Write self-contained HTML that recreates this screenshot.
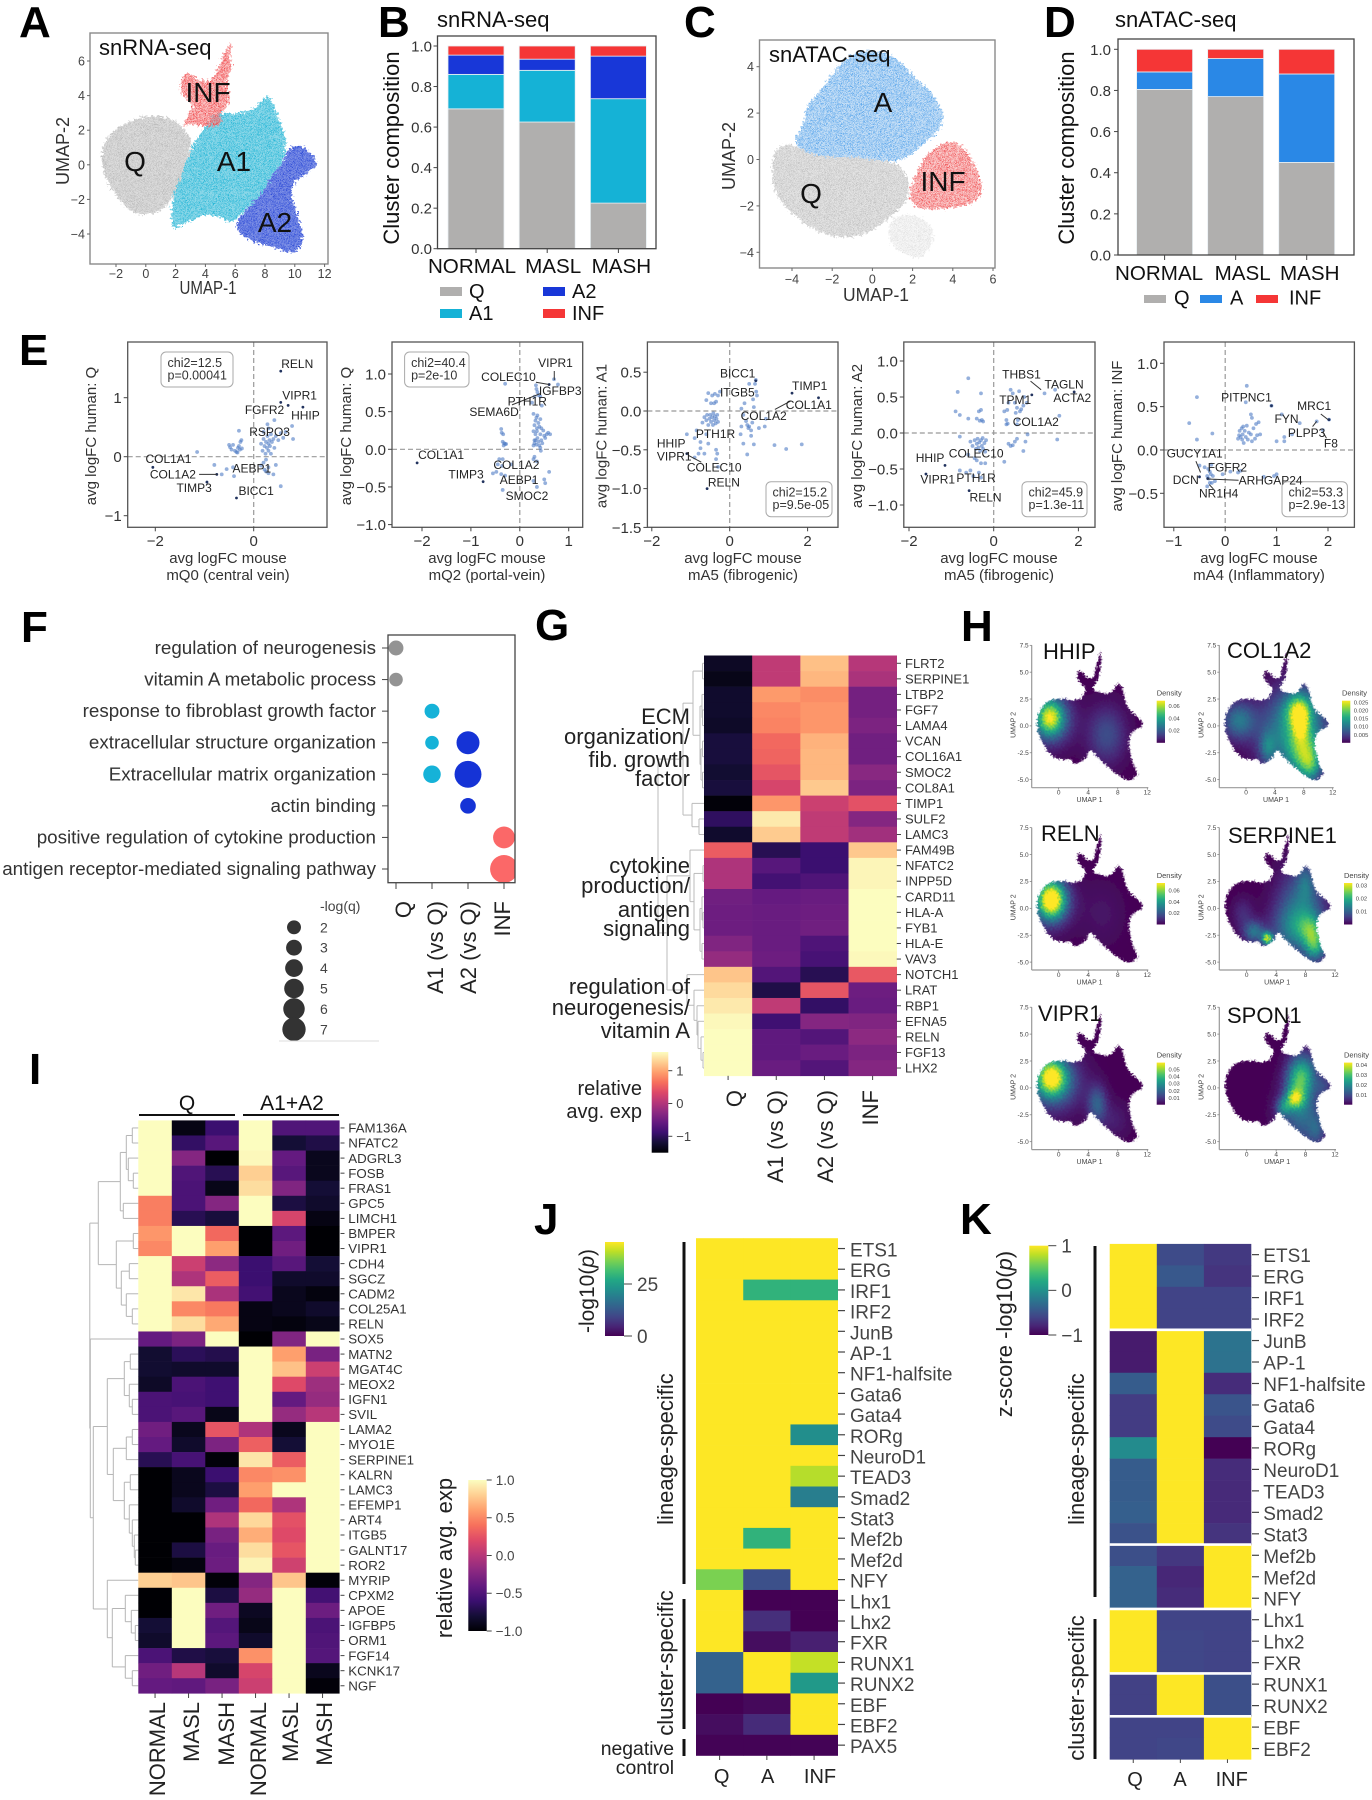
<!DOCTYPE html>
<html lang="en"><head><meta charset="utf-8"><title>Stellate cell single-nucleus figure</title>
<style>
html,body{margin:0;padding:0;background:#fff;width:1372px;height:1800px;overflow:hidden}
#figure{position:relative;width:1372px;height:1800px}
canvas{position:absolute}
svg{position:absolute;left:0;top:0}
text{font-family:"Liberation Sans",Arial,sans-serif}
.pl{font-size:44px;font-weight:bold;fill:#000}
.ttl{font-size:22px;fill:#111}
.big{font-size:28px;fill:#111}
.ax{font-size:15px;fill:#333}
.um{font-size:18px;fill:#333}
.gl{font-size:22px;fill:#222;text-anchor:end}
.hb{font-size:22px;fill:#111}
.hs{font-size:7px;fill:#444}
</style></head>
<body>
<div id="figure">
<div id="canvas-layer"></div>
<svg id="root" width="1372" height="1800" viewBox="0 0 1372 1800">
<defs id="defs">
<filter id="rough" x="-8%" y="-8%" width="116%" height="116%"><feTurbulence type="fractalNoise" baseFrequency=".45" numOctaves="2" seed="3" result="n"></feTurbulence><feDisplacementMap in="SourceGraphic" in2="n" scale="9" xChannelSelector="R" yChannelSelector="G"></feDisplacementMap></filter>
<filter id="rough-map" x="-8%" y="-8%" width="116%" height="116%"><feTurbulence type="fractalNoise" baseFrequency=".5" numOctaves="2" seed="8" result="n"></feTurbulence><feDisplacementMap in="SourceGraphic" in2="n" scale="6" xChannelSelector="R" yChannelSelector="G"></feDisplacementMap></filter>
</defs>

<g id="dendro-layer"></g>
<g id="panel-a"></g>
<g id="panel-b"></g>
<g id="panel-c"></g>
<g id="panel-d"></g>
<g id="panel-e"></g>
<g id="panel-f"></g>
<g id="panel-g"></g>
<g id="panel-h"></g>
<g id="panel-i"></g>
<g id="panel-j"></g>
<g id="panel-k"></g>

<g>
<text class="pl" x="19" y="37">A</text>
<text class="pl" x="378" y="37">B</text>
<text class="pl" x="684" y="37">C</text>
<text class="pl" x="1044" y="37">D</text>
<text class="pl" x="19" y="365">E</text>
<text class="pl" x="21" y="642">F</text>
<text class="pl" x="535" y="640">G</text>
<text class="pl" x="961" y="641">H</text>
<text class="pl" x="29" y="1084">I</text>
<text class="pl" x="534" y="1234">J</text>
<text class="pl" x="960" y="1234">K</text>
</g>

<g>
<text class="ttl" x="99" y="55">snRNA-seq</text>
<text class="big" x="135" y="171" text-anchor="middle">Q</text>
<text class="big" x="234" y="171" text-anchor="middle">A1</text>
<text class="big" x="275" y="232" text-anchor="middle">A2</text>
<text class="big" x="208" y="102" text-anchor="middle">INF</text>
<text class="um" x="208" y="294" text-anchor="middle" textLength="57" lengthAdjust="spacingAndGlyphs">UMAP-1</text>
<text class="um" transform="rotate(-90 69 151)" x="69" y="151" text-anchor="middle">UMAP-2</text>
<text class="ttl" x="437" y="27">snRNA-seq</text>
<text class="ttl" font-size="22.5" transform="rotate(-90 399 148)" x="399" y="148" text-anchor="middle">Cluster composition</text>
<text class="ttl" x="769" y="62">snATAC-seq</text>
<text class="big" x="883" y="112" text-anchor="middle">A</text>
<text class="big" x="811" y="203" text-anchor="middle">Q</text>
<text class="big" x="943" y="191" text-anchor="middle">INF</text>
<text class="um" x="876" y="301" text-anchor="middle" textLength="66" lengthAdjust="spacingAndGlyphs">UMAP-1</text>
<text class="um" transform="rotate(-90 735 156)" x="735" y="156" text-anchor="middle">UMAP-2</text>
<text class="ttl" x="1115" y="27">snATAC-seq</text>
<text class="ttl" transform="rotate(-90 1074 148)" x="1074" y="148" text-anchor="middle">Cluster composition</text>
</g>

<g>
<text class="gl" x="690" y="724">ECM</text>
<text class="gl" x="690" y="744">organization/</text>
<text class="gl" x="690" y="767">fib. growth</text>
<text class="gl" x="690" y="786">factor</text>
<text class="gl" x="690" y="873">cytokine</text>
<text class="gl" x="690" y="893">production/</text>
<text class="gl" x="690" y="917">antigen</text>
<text class="gl" x="690" y="936">signaling</text>
<text class="gl" x="690" y="994">regulation of</text>
<text class="gl" x="690" y="1015">neurogenesis/</text>
<text class="gl" x="690" y="1038">vitamin A</text>
<text class="gl" x="642" y="1095" style="font-size:20px">relative</text>
<text class="gl" x="642" y="1118" style="font-size:20px">avg. exp</text>
</g>

<g>
<text class="hb" x="1043" y="659">HHIP</text>
<text class="hb" x="1227" y="658">COL1A2</text>
<text class="hb" x="1041" y="841">RELN</text>
<text class="hb" x="1228" y="843">SERPINE1</text>
<text class="hb" x="1038" y="1021">VIPR1</text>
<text class="hb" x="1227" y="1023">SPON1</text>
</g>

<g>
<text x="187" y="1110" font-size="21" text-anchor="middle" fill="#111">Q</text>
<text x="292" y="1110" font-size="21" text-anchor="middle" fill="#111">A1+A2</text>
<rect x="139" y="1114" width="96" height="2" fill="#111"></rect>
<rect x="243" y="1114" width="96" height="2" fill="#111"></rect>
<text x="452" y="1558" font-size="22" fill="#222" text-anchor="middle" transform="rotate(-90 452 1558)">relative avg. exp</text>
</g>

<g>
<rect x="682.5" y="1242" width="3" height="342" fill="#111"></rect>
<rect x="682.5" y="1599" width="3" height="130" fill="#111"></rect>
<rect x="682.5" y="1739" width="3" height="17" fill="#111"></rect>
<text x="673" y="1449" font-size="22" fill="#222" text-anchor="middle" transform="rotate(-90 673 1449)">lineage-specific</text>
<text x="673" y="1663" font-size="22" fill="#222" text-anchor="middle" transform="rotate(-90 673 1663)">cluster-specific</text>
<text x="674" y="1755" font-size="19.4" fill="#222" text-anchor="end">negative</text>
<text x="674" y="1774" font-size="19.4" fill="#222" text-anchor="end">control</text>
<text x="594" y="1291" font-size="21" fill="#222" text-anchor="middle" transform="rotate(-90 594 1291)">-log10(<tspan font-style="italic">p</tspan>)</text>
</g>

<g>
<rect x="1093.5" y="1246" width="3" height="351" fill="#111"></rect>
<rect x="1093.5" y="1619" width="3" height="140" fill="#111"></rect>
<text x="1084" y="1449" font-size="22" fill="#222" text-anchor="middle" transform="rotate(-90 1084 1449)">lineage-specific</text>
<text x="1084" y="1688" font-size="22" fill="#222" text-anchor="middle" transform="rotate(-90 1084 1688)">cluster-specific</text>
<text x="1012" y="1334" font-size="22" fill="#222" text-anchor="middle" transform="rotate(-90 1012 1334)">z-score -log10(<tspan font-style="italic">p</tspan>)</text>
</g>
</svg>
</div>

<script>
/* ---------- DATA: panels A & C (cluster regions in UMAP units) ---------- */
const umapAQ=[[-2.96,.85],[-2.44,1.81],[-1.26,2.49],[.2,2.88],[1.82,2.68],[2.55,2.1],[3.14,1.43],[2.85,.46],[2.41,-.69],[2.11,-1.47],[1.53,-2.24],[.79,-2.82],[-.68,-2.92],[-1.56,-2.24],[-2.44,-1.27],[-2.96,-.12]];
const umapAA1=[[4.02,2.2],[4.61,3.07],[6.08,2.88],[7.54,3.36],[8.13,4.03],[8.13,4.03],[8.57,3.55],[9.01,2.39],[9.45,1.43],[9.3,.27],[8.42,-.69],[7.84,-1.66],[6.66,-2.63],[5.78,-3.4],[4.9,-3.01],[4.02,-2.82],[3.14,-3.2],[1.82,-3.69],[1.82,-3.69],[1.67,-2.24],[2.26,-.89],[2.85,.46],[3.29,1.43]];
const umapAA2=[[9.6,1.04],[10.48,1.14],[11.36,.46],[11.5,-.02],[10.77,-.5],[9.89,-.98],[9.74,-1.85],[10.33,-3.2],[10.63,-4.56],[9.89,-5.14],[8.42,-4.75],[6.66,-4.27],[5.93,-3.59],[6.66,-2.63],[7.84,-1.66],[8.42,-.69],[9.3,.27]];
const umapAINF=[[5.78,7.03],[5.78,7.03],[5.64,6.25],[5.78,5.48],[5.34,4.81],[5.64,3.94],[5.49,3.36],[4.9,2.88],[5.2,2.3],[4.02,2.2],[2.85,2.39],[2.41,2.1],[2.85,2.88],[3.29,3.55],[2.41,3.94],[2.26,4.9],[2.85,5.39],[3.29,5],[4.31,4.71],[4.9,5.68],[5.34,6.64]];
const umapCQ=[[-4.83,.55],[-5.05,-.53],[-4.83,-1.61],[-3.2,-2.97],[-1.67,-3.41],[-.37,-3.26],[.93,-2.47],[1.8,-1.75],[1.8,-.89],[1.37,-.17],[-.59,.11],[-2.76,.11],[-4.07,.69]];
const umapCTail=[[.93,-2.47],[.72,-3.62],[2.02,-4.27],[2.67,-4.12],[3.22,-3.19],[2.24,-2.33]];
const umapCA=[[-4.07,.69],[-3.41,1.48],[-3.3,2.27],[-2.54,3.06],[-1.89,3.78],[-1.13,4.57],[.07,4.71],[1.15,4.43],[2.24,3.42],[3.11,2.77],[3.54,1.98],[3.43,1.34],[2.59,.69],[1.37,-.17],[-.59,.11],[-2.76,.11]];
const umapCINF=[[2.59,.11],[3.35,.69],[4.33,.76],[5.09,-.17],[5.52,-1.25],[5.09,-1.9],[3.78,-2.11],[2.26,-2.18],[1.8,-1.61],[2.02,-.89]];
const umapATicksX=[-2,0,2,4,6,8,10,12];
const umapATicksY=[6,4,2,0,-2,-4];
const umapCTicksX=[-4,-2,0,2,4,6];
const umapCTicksY=[4,2,0,-2,-4];

/* ---------- DATA: panels B & D (stacked bars) ---------- */
const compCats=['NORMAL','MASL','MASH'];
const compBQ=[.69,.625,.225];
const compBA1=[.17,.255,.515];
const compBA2=[.095,.055,.21];
const compBINF=[.045,.065,.05];
const compDQ=[.805,.77,.45];
const compDA=[.085,.185,.43];
const compDINF=[.11,.045,.12];
const compTicks=[0,.2,.4,.6,.8,1];

/* ---------- DATA: panel E (mouse vs human logFC) ---------- */
const e1Points=[[-1.15,.08],[-.8,-.14],[-.65,-.3],[-.55,-.21],[-.42,-.18],[-.4,-.33],[-.5,.2],[-.48,.16],[-.45,.12],[-.42,.2],[-.38,.1],[-.35,.08],[-.32,.15],[-.3,.18],[-.28,.12],[-.27,.25],[-.25,.28],[-.3,.44],[-.33,.07],[-.24,.14],[.15,.22],[.18,.1],[.2,.3],[.22,.18],[.24,.05],[.25,.25],[.27,.15],[.28,.35],[.3,.22],[.3,.1],[.32,.28],[.33,.18],[.35,.05],[.35,.38],[.37,.25],[.4,.3],[.42,.15],[.45,.35],[.5,.28],[.55,.4],[.6,.32],[.65,.42],[.78,.52],[.8,.3],[.42,.62],[.28,.55],[.3,.48],[.2,.42],[.15,-.15],[.25,-.25],[.3,-.28],[.4,-.3],[.2,-.1],[.25,-.05],[.55,-.5],[.45,-.14],[.3,-.18],[.22,-.22]];
const e1Key=[[.55,1.45],[.55,.92],[.7,.87],[1,.84],[-2.05,-.18],[-.75,-.3],[-.95,-.43],[-.35,-.7]];
const e1Labels=[['RELN',.56,1.5],['VIPR1',.58,.97],['FGFR2',-.18,.72],['HHIP',.76,.63],['RSPO3',-.09,.35],['COL1A1',-2.2,-.11],['COL1A2',-2.11,-.37],['TIMP3',-1.57,-.6],['AEBP1',-.43,-.27],['BICC1',-.31,-.65]];
const e1Links=[[-1.11,-.3,-.74,-.3]];
const e2Points=[[-.42,-.13],[-.45,-.2],[-.35,-.13],[-.55,-.32],[-.48,-.3],[-.38,-.33],[-.3,-.35],[-.36,-.22],[-.18,-.2],[-.34,.2],[-.37,.22],[-.38,.27],[-.35,.1],[-.32,.08],[-.3,.07],[-.28,.07],[-.33,.05],[.28,.05],[.3,.08],[.32,.12],[.34,.06],[.36,.15],[.38,.1],[.4,.05],[.42,.2],[.44,.12],[.46,.08],[.48,.25],[.5,.18],[.52,.15],[.55,.2],[.58,.22],[.62,.2],[.28,.24],[.3,.32],[.32,.38],[.34,.42],[.35,.28],[.36,.45],[.38,.35],[.4,.3],[.42,.4],[.44,.28],[.28,.47],[.32,.2],[.35,.24],[.3,.12],[.42,.02],[.43,-.02],[.3,-.1],[.28,-.13],[.35,-.16],[.6,-.3],[.5,-.4],[.52,-.45],[.35,-.5],[.28,-.42],[-.35,-.54],[.33,.85],[.34,.8],[.36,.76],[.38,.72],[.45,.58],[.3,.7],[.25,.62],[.42,.7],[-.3,.87],[.7,.93],[.78,.86]];
const e2Key=[[-2.1,-.18],[-.75,-.43],[.6,.86]];
const e2Labels=[['VIPR1',.375,1.09],['COLEC10',-.79,.91],['IGFBP3',.39,.72],['PTH1R',-.25,.58],['SEMA6D',-1.03,.44],['COL1A1',-2.08,-.13],['COL1A2',-.54,-.26],['TIMP3',-1.46,-.385],['AEBP1',-.41,-.46],['SMOC2',-.29,-.67]];
const e2Links=[[.705,1.04,.705,.92],[.33,.89,.6,.86],[-.16,.59,.42,.74]];
const e3Points=[[-1.1,-.3],[-.85,-.25],[-.9,-.35],[-.75,-.4],[-.7,-.15],[-.65,-.08],[-.6,-.12],[-.58,-.05],[-.55,-.18],[-.52,-.1],[-.5,-.05],[-.48,-.14],[-.45,-.08],[-.43,-.18],[-.42,-.03],[-.4,-.12],[-.38,-.07],[-.36,-.16],[-.34,-.1],[-.32,-.05],[-.3,-.14],[-.6,.14],[-.55,.23],[-.48,.1],[-.45,.2],[-.4,.1],[-.38,.22],[-.3,.2],[-.25,.25],[-.35,.12],[.3,.03],[.35,-.05],[.38,.1],[.42,-.13],[.45,-.18],[.48,-.22],[.5,-.2],[.55,-.25],[.58,-.15],[.62,.05],[.7,.2],[.68,.25],[.65,.35],[.67,.4],[.6,.15],[.75,-.22],[.93,-.1],[.9,-.2],[.55,-.32],[.3,-.2],[.28,-.3],[.35,-.42],[-.6,-.3],[-.55,-.42],[-.75,-.48],[-.65,-.55],[-.35,-.5],[-.32,-.55],[-.35,-.62],[-.3,-.72],[1.15,-.44],[1.45,-.49],[1.85,-.43],[.45,-.56],[.62,-.43],[-.9,-.6],[-.8,-.55],[.5,.35]];
const e3Key=[[1.6,.23],[2.28,.17],[-.58,-1],[-1.1,-.55],[.67,.39]];
const e3Labels=[['HHIP',-1.87,-.47],['VIPR1',-1.87,-.64],['BICC1',-.25,.43],['ITGB5',-.25,.185],['TIMP1',1.6,.27],['COL1A1',1.44,.026],['COL1A2',.28,-.116],['PTH1R',-.87,-.35],['COLEC10',-1.1,-.78],['RELN',-.56,-.97]];
const e3Links=[[1.16,.02,1.57,.13],[-1.07,-.57,-.73,-.66]];
const e4Points=[[-.6,.76],[-.85,.57],[-.3,.55],[-.9,.3],[-.8,.25],[-.3,.32],[-.35,.3],[-.28,.18],[-.33,.17],[-.25,.16],[-.6,.2],[-.4,.2],[-.8,-.05],[-.55,-.12],[-.5,-.18],[-.45,-.1],[-.42,-.22],[-.4,-.15],[-.38,-.08],[-.36,-.2],[-.34,-.13],[-.32,-.25],[-.3,-.1],[-.28,-.18],[-.26,-.07],[-.25,-.22],[-.22,-.14],[-.2,-.26],[-.18,-.1],[-.6,-.3],[-.45,-.35],[-.4,-.38],[-.3,-.42],[-.2,-.42],[-.8,-.52],[-.65,-.55],[-.55,-.52],[-.48,-.6],[-.35,-.55],[-.3,-.62],[.3,.12],[.3,.18],[.32,.32],[.35,.42],[.4,.6],[.45,.55],[.5,.42],[.52,.28],[.55,.35],[.57,.18],[.6,.58],[.62,.3],[.65,.33],[.7,.38],[.72,.5],[.78,.42],[.33,.13],[.55,.12],[.25,.3],[.75,-.12],[.5,-.12],[.45,-.17],[.4,-.18],[.35,-.15],[.55,-.08],[.7,-.25],[.25,-.4],[.8,-.02],[1.5,-.09],[1.55,.24],[1.45,.6],[1.2,.55]];
const e4Key=[[.9,.53],[1.9,.57],[-1.15,-.45],[-1.6,-.57],[-.58,-.8]];
const e4Labels=[['THBS1',.2,.76],['TAGLN',1.2,.62],['ACTA2',1.41,.43],['TPM1',.13,.4],['COL1A2',.45,.1],['HHIP',-1.84,-.4],['COLEC10',-1.06,-.34],['VIPR1',-1.73,-.7],['PTH1R',-.88,-.68],['RELN',-.57,-.95]];
const e4Links=[[.87,.72,1.12,.6]];
const e5Points=[[-.55,.61],[-.7,.31],[-.55,.12],[-.25,.19],[.42,.74],[.4,.55],[.5,.41],[.52,.37],[.28,.22],[.3,.15],[.32,.25],[.33,.12],[.34,.18],[.36,.08],[.38,.22],[.4,.15],[.42,.28],[.44,.12],[.46,.2],[.5,.18],[.52,.1],[.55,.25],[.58,.13],[.6,.3],[.62,.17],[.65,.32],[.68,.18],[.25,.13],[.27,.17],[.35,.27],[1.1,.41],[1.45,.31],[1,.1],[1.15,.1],[1.15,.15],[1.3,.18],[1.78,.33],[1.9,.23],[2.02,.35],[.9,.51],[-.5,-.18],[-.4,-.2],[-.35,-.3],[-.32,-.33],[-.3,-.25],[-.28,-.28],[-.26,-.38],[-.24,-.3],[-.3,-.38],[-.35,-.42],[-.27,-.17],[-.33,-.22],[-.05,-.28],[.1,-.25],[.25,-.26],[.3,-.24],[.75,-.31],[.95,-.3],[1,-.28],[-.2,-.36]];
const e5Key=[[-.5,-.31],[-.34,-.33],[.9,.51],[2.02,.35]];
const e5Labels=[['PITPNC1',-.08,.56],['MRC1',1.4,.46],['FYN',.96,.31],['PLPP3',1.22,.15],['F8',1.92,.03],['GUCY1A1',-1.14,-.085],['FGFR2',-.34,-.25],['DCN',-1.02,-.39],['ARHGAP24',.26,-.4],['NR1H4',-.51,-.55]];
const e5Links=[[-.34,-.335,.26,-.35],[1.86,.415,2,.35],[-.57,-.13,-.48,-.26],[1.9,.21,1.97,.135],[-.31,-.4,-.23,-.45],[1.7,.27,1.78,.33]];

/* ---------- DATA: panel F (dot plot) ---------- */
const fTerms=['regulation of neurogenesis','vitamin A metabolic process','response to fibroblast growth factor','extracellular structure organization','Extracellular matrix organization','actin binding','positive regulation of cytokine production','antigen receptor-mediated signaling pathway'];
const fGroups=['Q','A1 (vs Q)','A2 (vs Q)','INF'];
const fScores=[[2.5,null,null,null],[1.8,null,null,null],[null,2.5,null,null],[null,1.8,6.8,null],[null,3.9,8.9,null],[null,null,2.9,null],[null,null,null,6.2],[null,null,null,9.4]];
const fLegendValues=[2,3,4,5,6,7];

/* ---------- DATA: panel G (heatmap) ---------- */
const gGenes=['FLRT2','SERPINE1','LTBP2','FGF7','LAMA4','VCAN','COL16A1','SMOC2','COL8A1','TIMP1','SULF2','LAMC3','FAM49B','NFATC2','INPP5D','CARD11','HLA-A','FYB1','HLA-E','VAV3','NOTCH1','LRAT','RBP1','EFNA5','RELN','FGF13','LHX2'];
const gCols=['Q','A1 (vs Q)','A2 (vs Q)','INF'];
const gValues=[[-1.3,.09,1.15,.02],[-1.38,.09,1.09,-.07],[-1.25,.91,.82,-.46],[-1.25,.79,.88,-.46],[-1.28,.76,.88,-.4],[-1.16,.57,1.06,-.49],[-1.16,.54,1.09,-.49],[-1.22,.42,1.09,-.31],[-1.16,.27,1.21,-.4],[-1.47,.88,.18,.39],[-.98,1.42,.09,-.34],[-1.25,1.22,.09,-.13],[.48,-1.04,-.89,1.2],[-.04,-.68,-.89,1.5],[-.04,-.83,-.74,1.5],[-.49,-.58,-.55,1.55],[-.52,-.55,-.52,1.55],[-.52,-.55,-.49,1.55],[-.37,-.55,-.74,1.55],[-.22,-.52,-.8,1.52],[1.18,-.71,-1.04,.45],[1.32,-1.1,.42,-.52],[1.42,.09,-.95,-.55],[1.52,-.86,-.34,-.37],[1.55,-.62,-.71,-.28],[1.55,-.62,-.55,-.4],[1.55,-.55,-.71,-.34]];
const gBarTicks=[1,0,-1];

/* ---------- DATA: panel H (density maps, blobs = x, y, spreadX, spreadY, density) ---------- */
const hOutline=[[5.68,7],[5.68,7],[5.8,5.8],[5.36,4.3],[4.46,3.5],[5.1,3.2],[6.9,2.85],[8.06,4],[8.06,4],[8.7,3.5],[9.2,1.7],[10.3,1.05],[11.4,.4],[11.35,-.1],[10.1,-.4],[9.4,-1.25],[9.86,-3.2],[10.77,-4.5],[10.77,-4.5],[9.64,-5.2],[7.84,-4.5],[5.6,-3.2],[4.2,-2],[3.8,-3],[2,-3.7],[1.75,-3],[1.1,-3.2],[-.7,-3],[-1.9,-2],[-2.75,-.8],[-3,.4],[-2.6,1.5],[-1.6,2.3],[.18,2.6],[2,2.35],[3.1,2.5],[3.8,3.5],[3.1,3.8],[2.34,4.6],[2.8,5.3],[3.56,4.64],[4.7,4.3],[5.1,5.6]];
const hhipBlobs=[[-1.2,.8,1.2,1.1,.045],[-1,.6,2,1.6,.025],[6.5,-.8,1.8,1.8,.016]];
const col1a2Blobs=[[-1,.5,1.6,1.2,.01],[7.3,1.5,1.2,1,.014],[7.5,.2,.7,.9,.012],[8,-2.5,1.5,1.5,.013],[9,-3.8,1,1,.009],[6,-.5,3,2.5,.01],[3,-2,.8,1,.007],[8,.5,2.5,2.5,.006]];
const relnBlobs=[[-1,.8,1.3,1.2,.075],[-1,.5,2.2,1.7,.014],[6,-.5,2,2,.004]];
const serpine1Blobs=[[2.8,-2.8,.5,.4,.026],[1,-2.2,1,.7,.012],[8.7,-1.9,1.2,1,.012],[9.3,-3.5,1,1,.016],[7.5,0,2.2,2.5,.012],[8,2.5,.8,1.2,.006],[6,-2,2,1.5,.008],[-.5,-.5,1,1,.004]];
const vipr1Blobs=[[-1,1,1.4,1.2,.05],[-.5,.5,2.5,1.8,.02],[5.2,-1.5,.9,1.2,.018],[7.5,-3,1.5,1.2,.005]];
const spon1Blobs=[[6.5,-1,.8,.6,.022],[7,.5,1.2,1.5,.02],[8,1.5,1.3,1.3,.013],[5,-1.8,.7,.6,.014],[7.5,-2.5,2,2,.014],[9.5,-4,.8,1,.008],[10.5,.2,.8,.7,.007]];
const hhipBar=[0,.0686];
const col1a2Bar=[0,.026];
const relnBar=[0,.0727];
const serpine1Bar=[0,.032];
const vipr1Bar=[0,.06];
const spon1Bar=[0,.0425];
const hhipTicks=[.06,.04,.02];
const col1a2Ticks=[.025,.02,.015,.01,.005];
const relnTicks=[.06,.04,.02];
const serpine1Ticks=[.03,.02,.01];
const vipr1Ticks=[.05,.04,.03,.02,.01];
const spon1Ticks=[.04,.03,.02,.01];
const hTicksX=[0,4,8,12];
const hTicksY=[7.5,5,2.5,0,-2.5,-5];

/* ---------- DATA: panel I (heatmap) ---------- */
const iGenes=['FAM136A','NFATC2','ADGRL3','FOSB','FRAS1','GPC5','LIMCH1','BMPER','VIPR1','CDH4','SGCZ','CADM2','COL25A1','RELN','SOX5','MATN2','MGAT4C','MEOX2','IGFN1','SVIL','LAMA2','MYO1E','SERPINE1','KALRN','LAMC3','EFEMP1','ART4','ITGB5','GALNT17','ROR2','MYRIP','CPXM2','APOE','IGFBP5','ORM1','FGF14','KCNK17','NGF'];
const iCols=['NORMAL','MASL','MASH','NORMAL','MASL','MASH'];
const iValues=[[1,-.94,-.6,1,-.5,-.5],[1,-.64,-.46,1,-.8,-.74],[1,-.24,-1,.98,-.4,-.9],[1,-.5,-.7,.8,-.46,-.9],[1,-.52,-.92,.86,-.26,-.8],[.46,-.52,-.24,1,-.76,-.84],[.46,-.7,-.78,1,.16,-.94],[.56,1,.36,-1,-.44,-1],[.5,1,.6,-1,-.34,-1],[1,.1,-.2,-.6,-.46,-.8],[1,-.04,.3,-.6,-.84,-.84],[1,.9,-.06,-.56,-.9,-.96],[1,.5,.44,-.94,-.9,-.84],[1,.86,.64,-.94,-.96,-.92],[-.4,-.28,1,-1,-.26,1],[-.82,-.68,-.72,1,.6,-.3],[-.82,-.84,-.84,1,.74,.1],[-.86,-.52,-.58,1,.2,-.12],[-.52,-.54,-.58,1,-.4,-.16],[-.52,-.46,-.92,1,-.16,0],[-.34,-.9,.26,-.04,-.9,1],[-.4,-.84,-.28,.32,-.8,1],[-.7,-.54,-.98,.9,.3,1],[-1,-.9,-.6,.5,.54,1],[-1,-.9,-.76,.6,1,1],[-1,-.84,-.34,.36,-.04,1],[-1,-1,-.04,.84,.24,1],[-1,-1,-.3,.66,.2,1],[-1,-.76,-.38,.86,.26,1],[-1,-.96,-.36,.96,.12,1],[.8,.76,-.98,-.24,.76,-.98],[-1,1,-.76,-.16,1,-.56],[-1,1,-.34,-.88,1,-.36],[-.8,1,-.48,-.92,1,-.52],[-.84,1,-.44,-.84,1,-.5],[-.52,-.74,-.78,.54,1,-.48],[-.34,0,-.84,.16,1,-.9],[-.4,-.42,-.3,.1,1,-.98]];
const iBarTicks=[1,.5,0,-.5,-1];

/* ---------- DATA: panels J & K ---------- */
const jMotifs=['ETS1','ERG','IRF1','IRF2','JunB','AP-1','NF1-halfsite','Gata6','Gata4','RORg','NeuroD1','TEAD3','Smad2','Stat3','Mef2b','Mef2d','NFY','Lhx1','Lhx2','FXR','RUNX1','RUNX2','EBF','EBF2','PAX5'];
const jCols=['Q','A','INF'];
const jValues=[[45,45,45],[45,45,45],[45,29,29],[45,45,45],[45,45,45],[45,45,45],[45,45,45],[45,45,45],[45,45,45],[45,45,22],[45,45,45],[45,45,40],[45,45,19],[45,45,45],[45,29,45],[45,45,45],[36,11,45],[45,0,0],[45,6,0],[45,1.5,4],[14,45,41],[14,45,24],[0,1,45],[1.5,5.5,45],[.3,.3,.3]];
const jBarTicks=[25,0];
const kMotifs=['ETS1','ERG','IRF1','IRF2','JunB','AP-1','NF1-halfsite','Gata6','Gata4','RORg','NeuroD1','TEAD3','Smad2','Stat3','Mef2b','Mef2d','NFY','Lhx1','Lhx2','FXR','RUNX1','RUNX2','EBF','EBF2'];
const kCols=['Q','A','INF'];
const kValues=[[1,-.55,-.67],[1,-.45,-.7],[1,-.6,-.6],[1,-.6,-.6],[-.85,1,-.24],[-.85,1,-.25],[-.42,1,-.75],[-.65,1,-.48],[-.65,1,-.55],[-.05,1,-1],[-.42,1,-.75],[-.42,1,-.76],[-.4,1,-.76],[-.5,1,-.7],[-.52,-.68,1],[-.38,-.78,1],[-.38,-.75,1],[1,-.6,-.6],[1,-.58,-.6],[1,-.58,-.6],[-.62,1,-.52],[-.62,1,-.52],[-.6,-.6,1],[-.6,-.58,1]];
const kGroupEnds=[4,14,17,20,22];
const kBarTicks=[1,0,-1];

/* ---------- colour maps ---------- */
const magmaStops=['#000004','#140e36','#3b0f70','#641a80','#8c2981','#b73779','#de4968','#f7705c','#fe9f6d','#fecf92','#fcfdbf'];
const viridisStops=['#440154','#482475','#414487','#355f8d','#2a788e','#21918c','#22a884','#44bf70','#7ad151','#bddf26','#fde725'];
function hex(c){return [parseInt(c.slice(1,3),16),parseInt(c.slice(3,5),16),parseInt(c.slice(5,7),16)];}
function rampRGB(stops,t){t=Math.max(0,Math.min(1,t));const p=t*(stops.length-1),i=Math.min(stops.length-2,Math.floor(p)),f=p-i,a=hex(stops[i]),b=hex(stops[i+1]);return [0,1,2].map(k=>Math.round(a[k]+(b[k]-a[k])*f));}
function ramp(stops,t){const c=rampRGB(stops,t);return 'rgb('+c.join(',')+')';}

/* ---------- helpers ---------- */
const NS='http://www.w3.org/2000/svg';
function mk(tag,attrs,parent){const e=document.createElementNS(NS,tag);for(const k in attrs)e.setAttribute(k,attrs[k]);if(parent)parent.appendChild(e);return e;}
function linear(v0,p0,v1,p1){return v=>p0+(v-v0)*(p1-p0)/(v1-v0);}
function chaikin(pts,n){
  let cur=pts;
  for(let it=0;it<n;it++){
    const out=[];
    cur.forEach((p,i)=>{
      const q=cur[(i+1)%cur.length];
      out.push([p[0]*.75+q[0]*.25,p[1]*.75+q[1]*.25]);
      out.push([p[0]*.25+q[0]*.75,p[1]*.25+q[1]*.75]);
    });
    cur=out;
  }
  return cur;
}
function txt(parent,str,x,y,size,anchor,fill,name){
  const t=mk('text',{x:x,y:y,'font-size':size,'text-anchor':anchor,fill:fill},parent);
  t.textContent=str;
  
  
  return t;
}
function txtV(parent,str,x,y,size,fill,name){
  const t=mk('text',{x:x,y:y,'font-size':size,'text-anchor':'end',fill:fill,transform:'rotate(-90 '+x+' '+y+')'},parent);
  t.textContent=str;
  
  
  return t;
}
function seg(parent,x1,y1,x2,y2,stroke,w,name){
  const l=mk('line',{x1:x1,y1:y1,x2:x2,y2:y2,stroke:stroke,'stroke-width':w},parent);
  
  
  return l;
}
function frame(parent,x,y,w,h,stroke,sw,name){
  const r=mk('rect',{x:x,y:y,width:w,height:h,fill:'none',stroke:stroke,'stroke-width':sw},parent);
  
  
  return r;
}
function fmt(v,d){return (d==null?String(v):v.toFixed(d)).replace('-','\u2212');}
const defs=document.getElementById('defs');
let gradCount=0;
function vGradient(stops){
  const id='grad'+(gradCount++);
  const g=mk('linearGradient',{id:id,x1:0,y1:1,x2:0,y2:0},defs);
  stops.forEach((c,i)=>mk('stop',{offset:i/(stops.length-1),'stop-color':c},g));
  return 'url(#'+id+')';
}
function colorbar(parent,x,y,w,h,stops,scaleLow,scaleHigh,ticks,dec,size,fill,tickLen,labelGap,name){
  const r=mk('rect',{x:x,y:y,width:w,height:h,fill:vGradient(stops)},parent);
  
  
  const sy=linear(scaleLow,y+h,scaleHigh,y);
  ticks.forEach(v=>{
    if(tickLen>0)seg(parent,x+w,sy(v),x+w+tickLen,sy(v),fill,1,name+'-tick');
    txt(parent,fmt(v,dec),x+w+labelGap,sy(v)+size*.36,size,'start',fill,name+'-tick-label');
  });
}
function makePattern(id,color,tint,tintOp,dotOp){
  const p=mk('pattern',{id:id,width:5,height:5,patternUnits:'userSpaceOnUse'},defs);
  mk('rect',{width:5,height:5,fill:tint,'fill-opacity':tintOp},p);
  [[1,1],[3.6,1.8],[1.6,3.7],[4.1,4.3]].forEach(d=>mk('circle',{cx:d[0],cy:d[1],r:.85,fill:color,'fill-opacity':dotOp},p));
  return 'url(#'+id+')';
}
function polygonFrom(parent,pts,sx,sy,fill,name){
  const pg=mk('polygon',{points:chaikin(pts,2).map(p=>sx(p[0]).toFixed(1)+','+sy(p[1]).toFixed(1)).join(' '),fill:fill},parent);
  
  
  return pg;
}

/* ---------- Panel A ---------- */
(function(){
  const g=document.getElementById('panel-a');
  const sx=linear(-2,116,12,324.6), sy=linear(6,61,-4,234);
  const cloud=mk('g',{filter:'url(#rough)'},g);
  
  
  polygonFrom(cloud,umapAQ,sx,sy,makePattern('pQ','#bdbdbd','#c8c8c8',.65,1),'cluster-q-cells');
  polygonFrom(cloud,umapAA1,sx,sy,makePattern('pA1','#2fb9d8','#58c7df',.7,1),'cluster-a1-cells');
  polygonFrom(cloud,umapAA2,sx,sy,makePattern('pA2','#3350d8','#5a72df',.8,1),'cluster-a2-cells');
  polygonFrom(cloud,umapAINF,sx,sy,makePattern('pI','#f04f52','#f58a8a',.55,1),'cluster-inf-cells');
  frame(g,90,33,238,231,'#8a8a8a',1.4,'umap-a-frame');
  umapATicksX.forEach(v=>{seg(g,sx(v),264,sx(v),267,'#666',1,'umap-a-x-tick');txt(g,fmt(v),sx(v),278,12.5,'middle','#444','umap-a-x-tick-label');});
  umapATicksY.forEach(v=>{seg(g,87,sy(v),90,sy(v),'#666',1,'umap-a-y-tick');txt(g,fmt(v),85,sy(v)+4.5,12.5,'end','#444','umap-a-y-tick-label');});
})();

/* ---------- Panel C ---------- */
(function(){
  const g=document.getElementById('panel-c');
  const sx=linear(-4,792,6,993), sy=linear(4,66.7,-4,252.3);
  const cloud=mk('g',{filter:'url(#rough)'},g);
  
  
  polygonFrom(cloud,umapCTail,sx,sy,makePattern('cT','#d0d0d0','#ededed',.5,.5),'cluster-q-sparse-tail');
  polygonFrom(cloud,umapCQ,sx,sy,makePattern('cQ','#c0c0c0','#d2d2d2',.65,.9),'cluster-q-cells');
  polygonFrom(cloud,umapCA,sx,sy,makePattern('cA','#5aa5ec','#a4cdf2',.65,.9),'cluster-a-cells');
  polygonFrom(cloud,umapCINF,sx,sy,makePattern('cI','#f0585c','#f59a9a',.55,.95),'cluster-inf-cells');
  frame(g,759.5,40,235.5,228,'#8a8a8a',1.4,'umap-c-frame');
  umapCTicksX.forEach(v=>{seg(g,sx(v),268,sx(v),271,'#666',1,'umap-c-x-tick');txt(g,fmt(v),sx(v),283.5,12.5,'middle','#444','umap-c-x-tick-label');});
  umapCTicksY.forEach(v=>{seg(g,756.5,sy(v),759.5,sy(v),'#666',1,'umap-c-y-tick');txt(g,fmt(v),754,sy(v)+4.5,12.5,'end','#444','umap-c-y-tick-label');});
})();

/* ---------- Panels B & D ---------- */
function stacked(g,series,colors,names,sy,barX,barW){
  compCats.forEach((cat,i)=>{
    let base=0;
    series.forEach((vals,s)=>{
      const top=base+vals[i];
      const r=mk('rect',{x:barX(i),y:sy(top),width:barW,height:sy(base)-sy(top),fill:colors[s],stroke:'#e8eef2','stroke-width':.8},g);
      
      
      base=top;
    });
  });
}
(function(){
  const g=document.getElementById('panel-b');
  const sy=linear(0,248.7,1,46);
  const barX=i=>448+i*71.2;
  stacked(g,[compBQ,compBA1,compBA2,compBINF],['#b0afae','#15b2d6','#1837d8','#f53636'],['q','a1','a2','inf'],sy,barX,56);
  frame(g,437.5,36,218.5,212.7,'#444',1.3,'composition-b-frame');
  compTicks.forEach(v=>{seg(g,433.5,sy(v),437.5,sy(v),'#444',1,'b-y-tick');txt(g,v.toFixed(1),432,sy(v)+5.5,15,'end','#333','b-y-tick-label');});
  const labelShift=[-4,6,3];
  compCats.forEach((c,i)=>{const x=barX(i)+28;seg(g,x,248.7,x,253,'#444',1,'b-x-tick');txt(g,c,x+labelShift[i],273,20.6,'middle','#111','b-x-tick-label');});
  const legend=[['Q','#b0afae',440,287],['A1','#15b2d6',440,309],['A2','#1837d8',543,287],['INF','#f53636',543,309]];
  legend.forEach(l=>{
    const r=mk('rect',{x:l[2],y:l[3],width:22,height:9,fill:l[1]},g);
    
    
    txt(g,l[0],l[2]+29,l[3]+11,20,'start','#111','legend-label-'+l[0].toLowerCase());
  });
})();
(function(){
  const g=document.getElementById('panel-d');
  const sy=linear(0,255,1,49.3);
  const barX=i=>1136.6+i*71.05;
  stacked(g,[compDQ,compDA,compDINF],['#b0afae','#2a88e6','#f53636'],['q','a','inf'],sy,barX,56);
  frame(g,1118,39,236,216,'#444',1.3,'composition-d-frame');
  compTicks.forEach(v=>{seg(g,1114,sy(v),1118,sy(v),'#444',1,'d-y-tick');txt(g,v.toFixed(1),1111,sy(v)+5.5,15,'end','#333','d-y-tick-label');});
  const labelShift=[-5.5,7,3];
  compCats.forEach((c,i)=>{const x=barX(i)+28;seg(g,x,255,x,260,'#444',1,'d-x-tick');txt(g,c,x+labelShift[i],280,20.6,'middle','#111','d-x-tick-label');});
  const legend=[['Q','#b0afae',1144],['A','#2a88e6',1200],['INF','#f53636',1256]];
  legend.forEach(l=>{
    const r=mk('rect',{x:l[2],y:295,width:22,height:8,fill:l[1]},g);
    
    
    txt(g,l[0],l[2]+(l[0]==='INF'?33:30),304.5,20,'start','#111','legend-label-'+l[0].toLowerCase());
  });
})();

/* ---------- Panel E ---------- */
const eStyle=[
 {pts:e1Points,key:e1Key,labels:e1Labels,links:e1Links,box:[127.7,342,199.3,185.3],sx:linear(-2,155.3,0,253.7),sy:linear(1,397.7,0,456.7),xt:[-2,0],yt:[1,0,-1],yd:null,yTitle:'avg logFC human: Q',line2:'mQ0 (central vein)',tx:91,xc:228,chi:['chi2=12.5','p=0.00041'],cb:[161,352,72,35]},
 {pts:e2Points,key:e2Key,labels:e2Labels,links:e2Links,box:[392,342,190.7,185.3],sx:linear(-2,422,1,568.7),sy:linear(1,374,0,449.3),xt:[-2,-1,0,1],yt:[1,.5,0,-.5,-1],yd:1,yTitle:'avg logFC human: Q',line2:'mQ2 (portal-vein)',tx:346,xc:487,chi:['chi2=40.4','p=2e-10'],cb:[404.6,352,64.4,35]},
 {pts:e3Points,key:e3Key,labels:e3Labels,links:e3Links,box:[647.4,342,190.6,185.3],sx:linear(-2,651.8,2,807.6),sy:linear(0,411,-1,488.6),xt:[-2,0,2],yt:[.5,0,-.5,-1,-1.5],yd:1,yTitle:'avg logFC human: A1',line2:'mA5 (fibrogenic)',tx:601.5,xc:743,chi:['chi2=15.2','p=9.5e-05'],cb:[766,481.7,66,35]},
 {pts:e4Points,key:e4Key,labels:e4Labels,links:e4Links,box:[903.8,342,191.2,185.3],sx:linear(-2,909,2,1078.4),sy:linear(1,361,-1,505),xt:[-2,0,2],yt:[1,.5,0,-.5,-1],yd:1,yTitle:'avg logFC human: A2',line2:'mA5 (fibrogenic)',tx:857,xc:999,chi:['chi2=45.9','p=1.3e-11'],cb:[1022,481.7,65,35]},
 {pts:e5Points,key:e5Key,labels:e5Labels,links:e5Links,box:[1164,342,190.4,185.3],sx:linear(-1,1173.8,2,1328),sy:linear(1,363.3,-.5,493.3),xt:[-1,0,1,2],yt:[1,.5,0,-.5],yd:1,yTitle:'avg logFC human: INF',line2:'mA4 (Inflammatory)',tx:1117,xc:1259,chi:['chi2=53.3','p=2.9e-13'],cb:[1282,481.7,65.4,35]}
];
(function(){
  const root=document.getElementById('panel-e');
  eStyle.forEach((c,i)=>{
    const g=mk('g',{},root);
    
    
    const [bx,by,bw,bh]=c.box, bot=by+bh;
    seg(g,bx,c.sy(0),bx+bw,c.sy(0),'#999',1.2,'zero-line-horizontal').setAttribute('stroke-dasharray','5 3');
    seg(g,c.sx(0),by,c.sx(0),bot,'#999',1.2,'zero-line-vertical').setAttribute('stroke-dasharray','5 3');
    const [cx,cy,cw,ch]=c.cb;
    const box=mk('rect',{x:cx,y:cy,width:cw,height:ch,rx:5,fill:'#fff',stroke:'#aaa','stroke-width':1},g);
    
    
    txt(g,c.chi[0],cx+6.5,cy+15,12.5,'start','#333','chi-square-value');
    txt(g,c.chi[1],cx+6.5,cy+27.5,12.5,'start','#333','p-value');
    c.pts.forEach(p=>{
      const d=mk('circle',{cx:c.sx(p[0]),cy:c.sy(p[1]),r:1.9,fill:'#4f7cc4','fill-opacity':.6},g);
      
      
    });
    c.key.forEach(p=>{
      const d=mk('circle',{cx:c.sx(p[0]),cy:c.sy(p[1]),r:1.4,fill:'#22335e'},g);
      
      
    });
    c.links.forEach(l=>seg(g,c.sx(l[0]),c.sy(l[1]),c.sx(l[2]),c.sy(l[3]),'#333',1,'label-connector'));
    c.labels.forEach(l=>txt(g,l[0],c.sx(l[1]),c.sy(l[2]),12,'start','#222','gene-label'));
    frame(g,bx,by,bw,bh,'#555',1.3,'scatter-frame');
    c.xt.forEach(v=>{seg(g,c.sx(v),bot,c.sx(v),bot+4,'#444',1,'x-tick');txt(g,fmt(v),c.sx(v),546,15,'middle','#333','x-tick-label');});
    c.yt.forEach(v=>{seg(g,bx-4,c.sy(v),bx,c.sy(v),'#444',1,'y-tick');txt(g,c.yd?fmt(v,c.yd):fmt(v),bx-6,c.sy(v)+5.5,15,'end','#333','y-tick-label');});
    const yl=txt(g,c.yTitle,c.tx+5,436,15,'middle','#333','y-axis-title');
    yl.setAttribute('transform','rotate(-90 '+(c.tx+5)+' 436)');
    txt(g,'avg logFC mouse',c.xc,563,15,'middle','#333','x-axis-title');
    txt(g,c.line2,c.xc,580,15,'middle','#333','x-axis-subtitle');
  });
})();

/* ---------- Panel F ---------- */
(function(){
  const g=document.getElementById('panel-f');
  const clip=mk('clipPath',{id:'fClip'},defs);
  mk('rect',{x:388,y:635,width:127,height:247.7},clip);
  const sx=i=>396+i*36;
  const sy=i=>648+i*31.57;
  const rad=v=>5.1+.94*v;
  const colors=['#939393','#15b2d8','#1533d6','#fb6868'];
  const inner=mk('g',{'clip-path':'url(#fClip)'},g);
  fTerms.forEach((t,r)=>{
    seg(g,382,sy(r),388,sy(r),'#444',1,'f-y-tick');
    txt(g,t,376,sy(r)+6,18.8,'end','#333','f-term-label');
    fGroups.forEach((_,c)=>{
      const v=fScores[r][c];
      if(v===null)return;
      const d=mk('circle',{cx:sx(c),cy:sy(r),r:rad(v),fill:colors[c]},inner);
      
      
    });
  });
  frame(g,388,635,127,247.7,'#444',1.3,'dotplot-frame');
  const base=[411,443,476,510];
  fGroups.forEach((t,c)=>{seg(g,sx(c),882.7,sx(c),889,'#444',1,'f-x-tick');txtV(g,t,base[c],901,22,'#222','f-group-label');});
  txt(g,'-log(q)',320,911,14,'start','#444','size-legend-title');
  fLegendValues.forEach((v,i)=>{
    const y=927.3+i*20.4;
    const d=mk('circle',{cx:294,cy:y,r:rad(v),fill:'#333'},g);
    
    
    txt(g,String(v),320,y+5,14,'start','#444','size-legend-label');
  });
  seg(g,279,1041,379,1041,'#ddd',1,'size-legend-rule');
})();

/* ---------- generic heatmap + dendrogram ---------- */
function heat(g,rows,cols,vals,x0,y0,w,h,color,prefix){
  const rh=h/rows.length, cw=w/cols.length;
  rows.forEach((name,r)=>{
    cols.forEach((c,k)=>{
      const cell=mk('rect',{x:x0+k*cw,y:y0+r*rh,width:cw+.3,height:rh+.3,fill:color(vals[r][k])},g);
      
      
    });
  });
  return {rh:rh,cw:cw};
}
function dendro(g,node,left,y0,rh,stroke,prefix){
  if(typeof node==='number')return {x:left,y:y0+(node+.5)*rh};
  const a=dendro(g,node[1],left,y0,rh,stroke,prefix), b=dendro(g,node[2],left,y0,rh,stroke,prefix);
  const x=left-node[0];
  seg(g,a.x,a.y,x,a.y,stroke,1,prefix+'-branch');
  seg(g,b.x,b.y,x,b.y,stroke,1,prefix+'-branch');
  seg(g,x,a.y,x,b.y,stroke,1,prefix+'-branch');
  return {x:x,y:(a.y+b.y)/2};
}
const dendroLayer=document.getElementById('dendro-layer');

/* ---------- Panel G ---------- */
const gTree=[46,[21,[11,[1.5,0,1],[4,[2,2,[1.5,3,4]],[3,[1.5,5,6],[1.5,7,8]]]],[12,9,[5,10,11]]],[37,[14,12,[10,[1,13,14],[4,[2,15,[1,16,17]],[2,18,19]]]],[17,20,[10,21,[7,22,[6,23,[3,24,[1,25,26]]]]]]]];
(function(){
  const g=document.getElementById('panel-g');
  const col=linear(-1.5,0,1.55,1);
  const m=heat(g,gGenes,gCols,gValues,704,655.5,192.7,420.3,v=>ramp(magmaStops,col(v)),'g');
  dendro(dendroLayer,gTree,704,655.5,m.rh,'#bbb','g-dendrogram');
  gGenes.forEach((n,r)=>{
    const y=655.5+(r+.5)*m.rh;
    seg(g,896.7,y,901,y,'#444',1,'g-row-tick');
    txt(g,n,905,y+4.5,13,'start','#333','g-gene-label');
  });
  const base=[742,783,833,878];
  gCols.forEach((c,k)=>{
    const x=704+(k+.5)*m.cw;
    seg(g,x,1075.8,x,1080,'#444',1,'g-col-tick');
    txtV(g,c,base[k],1090,22,'#222','g-col-label');
  });
  colorbar(g,651.7,1052,16.6,100.7,magmaStops,-1.5,1.57,gBarTicks,null,13,'#444',4,8,'g-colorbar');
})();

/* ---------- Panel I ---------- */
const iTree=[48.5,[40,[18,[12,[6,0,1],[10,2,[5,3,4]]],[15,5,6]],[22,[5,7,8],[17,[9,9,10],[12,11,[6,12,13]]]]],[48,14,[45,[31,[14,[8,15,16],[9,17,[6,18,19]]],[25,[12,[6,20,21],22],[14,[8,23,24],[9,25,[6,26,[4,27,[3,28,29]]]]]]],[31,30,[26,[13,31,[7,32,[3,33,34]]],[13,35,[6,36,37]]]]]]];
(function(){
  const g=document.getElementById('panel-i');
  const col=linear(-1,0,1,1);
  const m=heat(g,iGenes,iCols,iValues,138.3,1120.4,201,572.9,v=>ramp(magmaStops,col(v)),'i');
  dendro(dendroLayer,iTree,138.3,1120.4,m.rh,'#b5b5b5','i-dendrogram');
  iGenes.forEach((n,r)=>{
    const y=1120.4+(r+.5)*m.rh;
    seg(g,340.5,y,344.5,y,'#444',1,'i-row-tick');
    txt(g,n,348.3,y+4.7,13.3,'start','#333','i-gene-label');
  });
  const base=[165,199,234,266,298,332];
  iCols.forEach((c,k)=>{
    const x=138.3+(k+.5)*m.cw;
    seg(g,x,1693.3,x,1698,'#444',1,'i-col-tick');
    txtV(g,c,base[k],1702,22,'#222','i-col-label');
  });
  colorbar(g,468.3,1480,18.4,151,magmaStops,-1,1,iBarTicks,1,13.5,'#444',5,9,'i-colorbar');
})();

/* ---------- Panel J ---------- */
(function(){
  const g=document.getElementById('panel-j');
  const col=linear(0,0,45,1);
  const m=heat(g,jMotifs,jCols,jValues,696,1238.2,141.7,517.3,v=>ramp(viridisStops,col(v)),'j');
  jMotifs.forEach((n,r)=>{
    const y=1238.2+(r+.5)*m.rh;
    seg(g,838,y,845,y,'#444',1.2,'j-row-tick');
    txt(g,n,850,y+8,19,'start','#444','j-motif-label');
  });
  const lx=[721.7,767.7,820];
  jCols.forEach((c,k)=>{
    const x=696+(k+.5)*m.cw;
    seg(g,x,1755.5,x,1760,'#444',1,'j-col-tick');
    txt(g,c,lx[k],1783,20,'middle','#222','j-col-label');
  });
  colorbar(g,605,1242,19,94,viridisStops,0,45.2,jBarTicks,null,19,'#444',8,13,'j-colorbar');
})();

/* ---------- Panel K ---------- */
(function(){
  const g=document.getElementById('panel-k');
  const col=linear(-1,0,1,1);
  const m=heat(g,kMotifs,kCols,kValues,1109.7,1243.9,141.3,515.4,v=>ramp(viridisStops,col(v)),'k');
  kGroupEnds.forEach(r=>{
    const y=1243.9+r*m.rh;
    seg(g,1109.7,y,1251,y,'#fff',2.6,'k-group-gap');
  });
  kMotifs.forEach((n,r)=>{
    const y=1243.9+(r+.5)*m.rh;
    seg(g,1252,y,1259,y,'#444',1.2,'k-row-tick');
    txt(g,n,1263.3,y+7.5,19,'start','#444','k-motif-label');
  });
  const lx=[1135,1180,1231.7];
  kCols.forEach((c,k)=>{
    const x=1109.7+(k+.5)*m.cw;
    seg(g,x,1759.3,x,1763,'#444',1,'k-col-tick');
    txt(g,c,lx[k],1786,20,'middle','#222','k-col-label');
  });
  colorbar(g,1029.3,1245.7,19,89.3,viridisStops,-1,1,kBarTicks,null,19,'#444',8,13,'k-colorbar');
})();

/* ---------- Panel H ---------- */
const hLayout=[
 {name:'hhip',blobs:hhipBlobs,bar:hhipBar,ticks:hhipTicks,dec:2,left:1031.7,x0:1058.7,x12:1147.3,y75:645.3,y0:725.9,bottom:787.7,bx:1156.7,by:700.7,bh:42.1,dy:695.4},
 {name:'col1a2',blobs:col1a2Blobs,bar:col1a2Bar,ticks:col1a2Ticks,dec:3,left:1219.3,x0:1246,x12:1332.7,y75:645.3,y0:725.9,bottom:787.7,bx:1342,by:700.7,bh:42.1,dy:695.4},
 {name:'reln',blobs:relnBlobs,bar:relnBar,ticks:relnTicks,dec:2,left:1031.7,x0:1058.7,x12:1147.3,y75:827.6,y0:908.3,bottom:970,bx:1156.7,by:883,bh:41.5,dy:877.8},
 {name:'serpine1',blobs:serpine1Blobs,bar:serpine1Bar,ticks:serpine1Ticks,dec:2,left:1219.3,x0:1246.7,x12:1335,y75:827.6,y0:908.3,bottom:970,bx:1344,by:883,bh:41.5,dy:877.8},
 {name:'vipr1',blobs:vipr1Blobs,bar:vipr1Bar,ticks:vipr1Ticks,dec:2,left:1031.7,x0:1058.7,x12:1147.3,y75:1007.2,y0:1087.9,bottom:1149.6,bx:1156.7,by:1062.6,bh:42.1,dy:1057.4},
 {name:'spon1',blobs:spon1Blobs,bar:spon1Bar,ticks:spon1Ticks,dec:2,left:1219.3,x0:1246.7,x12:1335,y75:1007.2,y0:1087.9,bottom:1149.6,bx:1344,by:1062.6,bh:42.1,dy:1057.4}
];
(function(){
  const root=document.getElementById('panel-h');
  const layer=document.getElementById('canvas-layer');
  const outline=chaikin(hOutline,2);
  hLayout.forEach(p=>{
    const g=mk('g',{},root);
    
    
    const sx=linear(0,p.x0,12,p.x12), sy=linear(0,p.y0,7.5,p.y75);
    const cL=Math.floor(sx(-3.9)), cR=Math.ceil(sx(12)), cT=Math.floor(sy(7.5)), cB=Math.ceil(sy(-5.8));
    const W=cR-cL, H=cB-cT;
    const cv=document.createElement('canvas');
    cv.width=W;cv.height=H;
    cv.style.left=cL+'px';cv.style.top=cT+'px';
    cv.style.filter='url(#rough-map)';
    
    
    layer.appendChild(cv);
    const off=document.createElement('canvas');off.width=W;off.height=H;
    const octx=off.getContext('2d'), img=octx.createImageData(W,H);
    const invX=linear(p.x0,0,p.x12,12), invY=linear(p.y0,0,p.y75,7.5);
    for(let j=0;j<H;j++)for(let i=0;i<W;i++){
      const ux=invX(cL+i+.5), uy=invY(cT+j+.5);
      let d=0;
      p.blobs.forEach(b=>{const a=(ux-b[0])/b[2], c=(uy-b[1])/b[3];d+=b[4]*Math.exp(-.5*(a*a+c*c));});
      const rgb=rampRGB(viridisStops,(d-p.bar[0])/(p.bar[1]-p.bar[0]));
      const o=(j*W+i)*4;
      img.data[o]=rgb[0];img.data[o+1]=rgb[1];img.data[o+2]=rgb[2];img.data[o+3]=255;
    }
    octx.putImageData(img,0,0);
    const ctx=cv.getContext('2d');
    ctx.beginPath();
    outline.forEach((q,k)=>{const X=sx(q[0])-cL,Y=sy(q[1])-cT;if(k)ctx.lineTo(X,Y);else ctx.moveTo(X,Y);});
    ctx.closePath();ctx.clip();
    ctx.drawImage(off,0,0);

    seg(g,p.left,p.y75,p.left,p.bottom,'#999',1.2,'density-y-axis');
    seg(g,p.left,p.bottom,p.x12+1,p.bottom,'#999',1.2,'density-x-axis');
    hTicksX.forEach(v=>{seg(g,sx(v),p.bottom,sx(v),p.bottom+2,'#777',.7,'density-x-tick');txt(g,String(v),sx(v),p.bottom+7,6.5,'middle','#444','density-x-tick-label');});
    hTicksY.forEach(v=>{seg(g,p.left-2,sy(v),p.left,sy(v),'#777',.7,'density-y-tick');txt(g,v.toFixed(1),p.left-3,sy(v)+2.3,6.5,'end','#444','density-y-tick-label');});
    txt(g,'UMAP 1',(p.left+p.x12)/2,p.bottom+14.5,7,'middle','#444','density-x-title');
    const yt=txt(g,'UMAP 2',p.left-16,p.y0-1,7,'middle','#444','density-y-title');
    yt.setAttribute('transform','rotate(-90 '+(p.left-16)+' '+(p.y0-1)+')');
    txt(g,'Density',p.bx,p.dy,7.5,'start','#444','density-legend-title');
    colorbar(g,p.bx,p.by,8.3,p.bh,viridisStops,p.bar[0],p.bar[1],p.ticks,p.dec,5.8,'#444',0,3.5,'density-colorbar');
  });
})();
</script>
</body></html>
